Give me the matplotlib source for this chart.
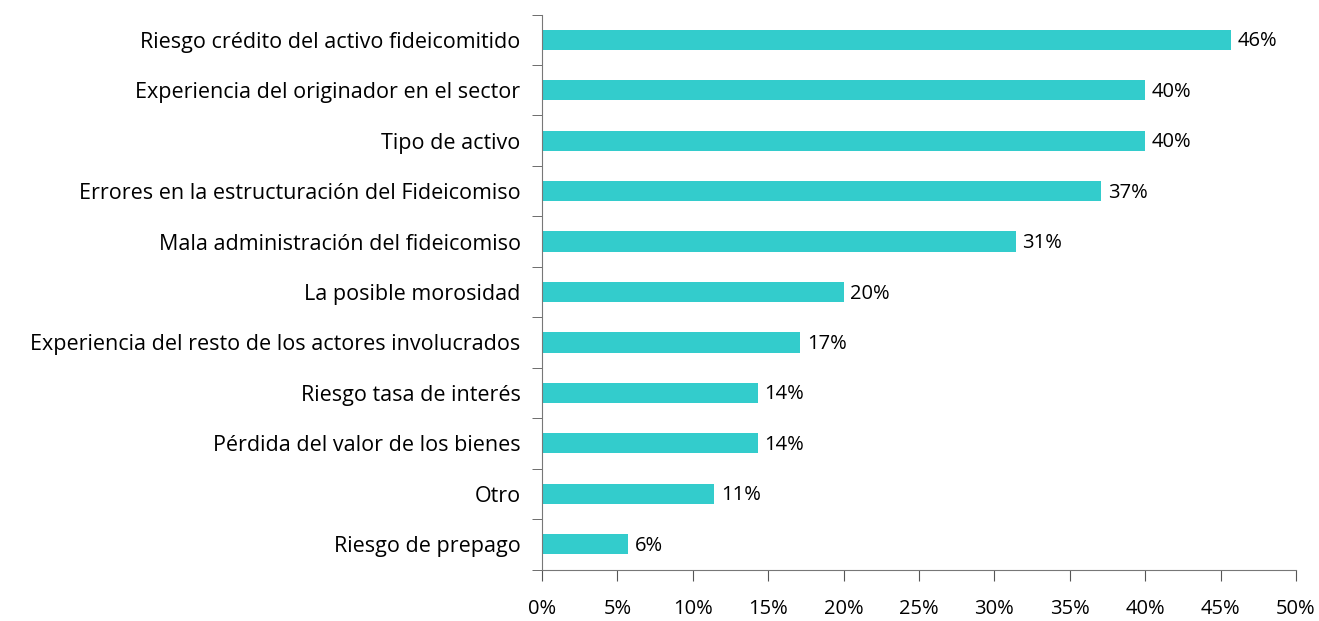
import matplotlib.pyplot as plt
import numpy as np
from matplotlib.ticker import FixedLocator

categorias = [
    "Riesgo crédito del activo fideicomitido",
    "Experiencia del originador en el sector",
    "Tipo de activo",
    "Errores en la estructuración del Fideicomiso",
    "Mala administración del fideicomiso",
    "La posible morosidad",
    "Experiencia del resto de los actores involucrados",
    "Riesgo tasa de interés",
    "Pérdida del valor de los bienes",
    "Otro",
    "Riesgo de prepago",
]
valores = [45.7, 40.0, 40.0, 37.1, 31.4, 20.0, 17.1, 14.3, 14.3, 11.4, 5.7]
ticks_x = [0, 5, 10, 15, 20, 25, 30, 35, 40, 45, 50]

plt.rcParams['font.family'] = ['Open Sans', 'DejaVu Sans']

fig = plt.figure(figsize=(13.19, 6.21), dpi=100)
ax = fig.add_axes([0.411, 0.0829, 0.5715, 0.8937])

n = len(categorias)
y = np.arange(n)[::-1]
ax.barh(y, valores, height=0.4, color='#33CCCC')
for yi, v in zip(y, valores):
    ax.text(v + 0.45, yi - 0.03, f"{v:.0f}%", va='center', ha='left', fontsize=14.5)

ax.set_xlim(0, 50)
ax.set_ylim(-0.5, n - 0.5)
ax.set_xticks(ticks_x)
ax.set_xticklabels([f"{t}%" for t in ticks_x], fontsize=14.5)
ax.yaxis.set_major_locator(FixedLocator(y))
ax.set_yticklabels(categorias, fontsize=15.5)
ax.yaxis.set_minor_locator(FixedLocator(np.arange(n + 1) - 0.5))
ax.tick_params(axis='y', which='major', length=0, pad=15.5)
ax.tick_params(axis='y', which='minor', length=7, color='#555555')
ax.tick_params(axis='x', length=8, pad=13, color='#555555', direction='out')

for s in ['top', 'right']:
    ax.spines[s].set_visible(False)
for s in ['left', 'bottom']:
    ax.spines[s].set_color('#777777')

fig.savefig('out.png', dpi=100)
